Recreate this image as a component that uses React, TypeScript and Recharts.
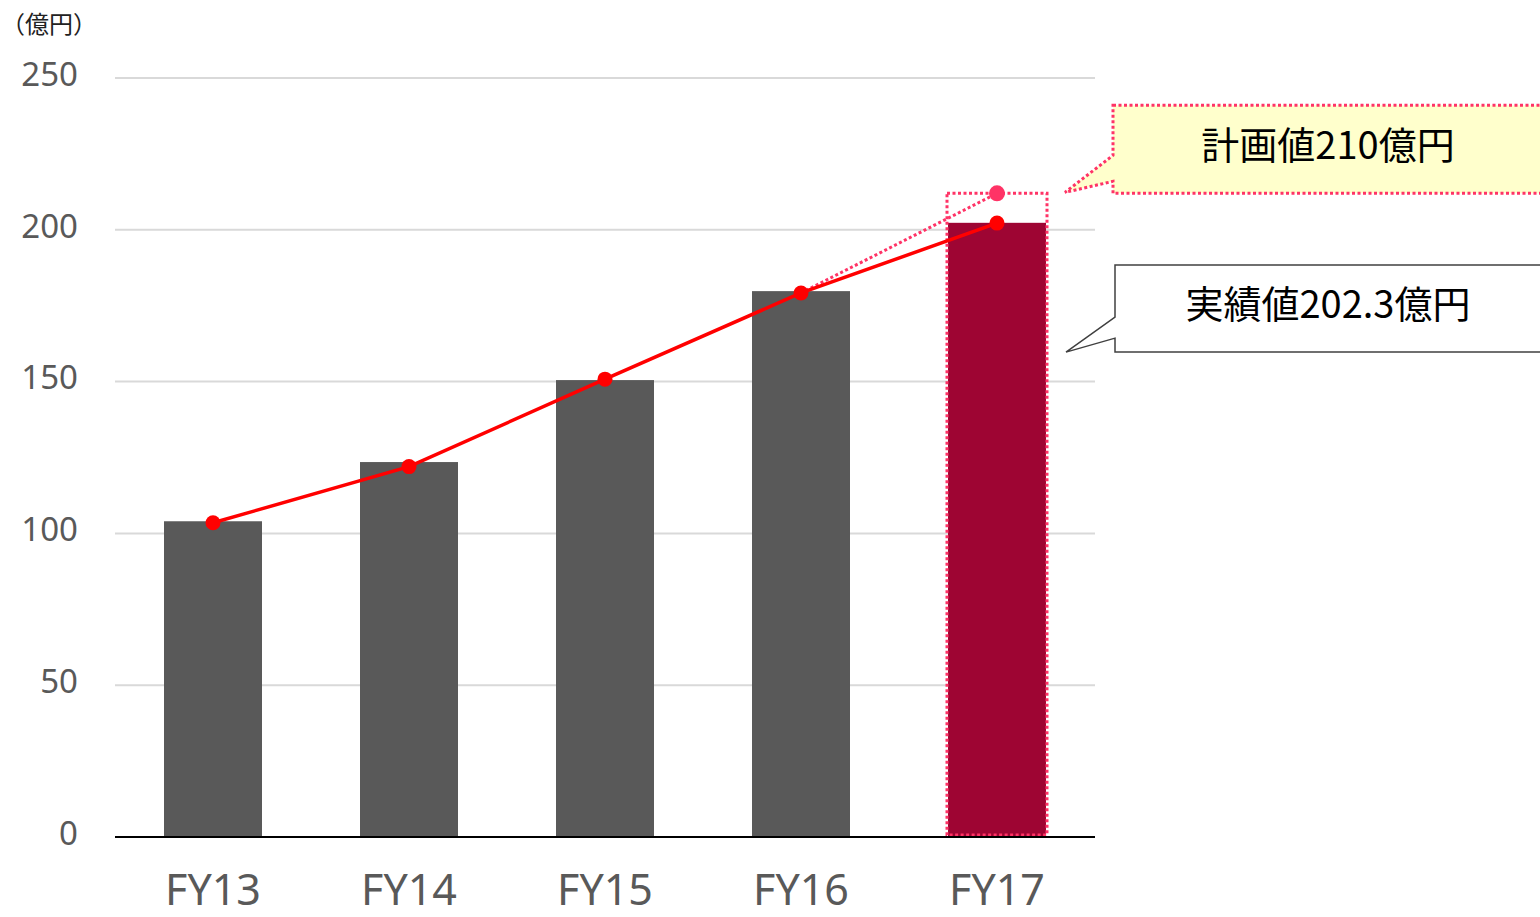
import React from 'react';
import { ComposedChart, Bar, Line, XAxis, YAxis, CartesianGrid, Cell } from 'recharts';

const categories = ['FY13', 'FY14', 'FY15', 'FY16', 'FY17'];
const barValues = [104, 123.5, 150.5, 179.8, 202.3];
const lineValues = [103.5, 122, 150.8, 179.2, 202.2];
const planValues: (number | null)[] = [null, null, null, 179.2, 212];
const yTicks = [0, 50, 100, 150, 200, 250];
const unitLabel = '（億円）';
const planLabel = '計画値210億円';
const actualLabel = '実績値202.3億円';
const planValue = 212;

const GRAY = '#595959';
const CRIMSON = '#9e0533';
const RED = '#ff0000';
const PINK = '#ff3366';
const FONT = '"Noto Sans", "Noto Sans CJK JP", sans-serif';
const CJK = '"Noto Sans CJK JP", "Noto Sans", sans-serif';

const data = categories.map((name, i) => ({
  name,
  sales: barValues[i],
  trend: lineValues[i],
  plan: planValues[i],
}));

const lastIndex = categories.length - 1;

const BarShape = (props: any) => {
  const { x, y, width, height, index, payload } = props;
  const isLast = index === lastIndex;
  const fill = isLast ? CRIMSON : GRAY;
  const els: any[] = [<rect key="b" x={x} y={y} width={width} height={height} fill={fill} />];
  if (isLast && payload && payload.sales) {
    const pxPerUnit = height / payload.sales;
    const bottom = y + height;
    const top = bottom - planValue * pxPerUnit;
    els.push(
      <rect
        key="d"
        x={x - 1}
        y={top}
        width={width + 2}
        height={bottom - top - 2}
        fill="none"
        stroke={PINK}
        strokeWidth={3}
        strokeDasharray="3 2.5"
      />
    );
  }
  return <g>{els}</g>;
};

const YTick = (props: any) => {
  const { y, payload } = props;
  return (
    <text x={78} y={y - 4} dy="0.36em" textAnchor="end" fontSize={33} fill={GRAY} fontFamily={FONT}>
      {payload.value}
    </text>
  );
};

const XTick = (props: any) => {
  const { x, y, payload } = props;
  return (
    <text x={x} y={y + 60} textAnchor="middle" fontSize={43} fill={GRAY} fontFamily={FONT}>
      {payload.value}
    </text>
  );
};

const PlanDot = (props: any) => {
  const { cx, cy, index } = props;
  if (index !== lastIndex || cx == null || cy == null) return <g key={`pd${index}`} />;
  return <circle key={`pd${index}`} cx={cx} cy={cy} r={8} fill={PINK} />;
};

const TrendDot = (props: any) => {
  const { cx, cy, index } = props;
  if (cx == null || cy == null) return <g key={`td${index}`} />;
  return <circle key={`td${index}`} cx={cx} cy={cy} r={7.5} fill={RED} />;
};

const PlanCallout = (props: any) => {
  const { x, y, index } = props;
  if (index !== lastIndex || x == null || y == null) return null;
  const left = x + 116;
  const top = y - 88;
  const bottom = y;
  const right = left + 440;
  const d = `M ${left} ${top} L ${right} ${top} L ${right} ${bottom} L ${left} ${bottom} L ${left} ${y - 12} L ${x + 68} ${y - 1} L ${left} ${y - 38} Z`;
  return (
    <g>
      <path d={d} fill="#ffffcc" stroke={PINK} strokeWidth={3} strokeDasharray="3 2.5" />
      <text x={left + 215} y={top + 40} dy="0.36em" textAnchor="middle" fontSize={38} fill="#000" fontFamily={CJK}>
        {planLabel}
      </text>
    </g>
  );
};

const ActualCallout = (props: any) => {
  const { x, y, index } = props;
  if (index !== lastIndex || x == null || y == null) return null;
  const left = x + 118;
  const top = y + 42;
  const bottom = y + 129;
  const right = left + 440;
  const d = `M ${left} ${top} L ${right} ${top} L ${right} ${bottom} L ${left} ${bottom} L ${left} ${y + 115} L ${x + 69} ${y + 129} L ${left} ${y + 94} Z`;
  return (
    <g>
      <path d={d} fill="#ffffff" stroke="#404040" strokeWidth={1.5} />
      <text x={left + 213} y={top + 39} dy="0.36em" textAnchor="middle" fontSize={38} fill="#000" fontFamily={CJK}>
        {actualLabel}
      </text>
    </g>
  );
};

export default function App() {
  return (
    <div style={{ position: 'absolute', left: 0, top: 0, width: 1540, height: 917, background: '#fff', overflow: 'hidden' }}>
      <div
        style={{
          position: 'absolute',
          left: 1,
          top: 7,
          fontSize: 24,
          fontFamily: CJK,
          color: '#222',
          lineHeight: '32px',
          zIndex: 2,
        }}
      >
        {unitLabel}
      </div>
      <ComposedChart width={1540} height={917} data={data} margin={{ top: 78, right: 445, left: 0, bottom: 0 }}>
        <CartesianGrid vertical={false} stroke="#d9d9d9" strokeWidth={2} />
        <XAxis
          dataKey="name"
          height={80}
          tickLine={false}
          axisLine={{ stroke: '#000', strokeWidth: 2 }}
          tick={<XTick />}
          interval={0}
        />
        <YAxis
          width={115}
          domain={[0, 250]}
          ticks={yTicks}
          axisLine={false}
          tickLine={false}
          tick={<YTick />}
          interval={0}
        />
        <Bar dataKey="sales" barSize={98} shape={<BarShape />} isAnimationActive={false}>
          {data.map((d, i) => (
            <Cell key={d.name} fill={i === lastIndex ? CRIMSON : GRAY} />
          ))}
        </Bar>
        <Line
          dataKey="plan"
          stroke={PINK}
          strokeWidth={3}
          strokeDasharray="3 2.5"
          dot={<PlanDot />}
          activeDot={false}
          label={<PlanCallout />}
          isAnimationActive={false}
        />
        <Line
          dataKey="trend"
          stroke={RED}
          strokeWidth={3.5}
          dot={<TrendDot />}
          activeDot={false}
          label={<ActualCallout />}
          isAnimationActive={false}
        />
      </ComposedChart>
    </div>
  );
}
